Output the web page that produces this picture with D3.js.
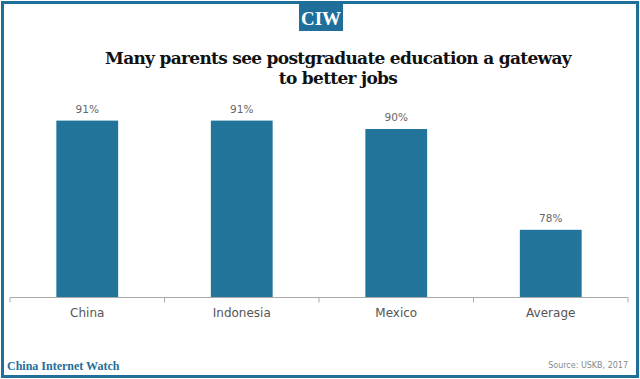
<!DOCTYPE html>
<html><head><meta charset="utf-8">
<script src="https://cdn.jsdelivr.net/npm/d3@7"></script>
<style>body{margin:0;background:#fff}svg{display:block}</style>
</head><body>
<svg id="c" width="640" height="379"></svg>
<script>
const categories = ["China", "Indonesia", "Mexico", "Average"];
const values = [91, 91, 90, 78];
const valueLabels = ["91%", "91%", "90%", "78%"];
const titleLines = ["Many parents see postgraduate education a gateway", "to better jobs"];

const svg = d3.select("#c");
const W = 640, H = 379;
const blue = "#1f6f9a";
const barColor = "#22749b";

// frame
svg.append("rect").attr("x", 2.5).attr("y", 2.5).attr("width", W - 5).attr("height", H - 5)
  .attr("fill", "none").attr("stroke", blue).attr("stroke-width", 3);

// logo
svg.append("rect").attr("x", 299).attr("y", 4).attr("width", 44).attr("height", 27).attr("fill", blue);
svg.append("text").attr("x", 321).attr("y", 25).attr("text-anchor", "middle")
  .attr("font-family", "Liberation Serif").attr("font-weight", "bold").attr("font-size", 19)
  .attr("fill", "#fff").text("CIW");

// title
svg.append("g").selectAll("text").data(titleLines).join("text")
  .attr("x", 338).attr("y", (d, i) => 64 + i * 20).attr("text-anchor", "middle")
  .attr("font-family", "DejaVu Serif").attr("font-weight", "bold").attr("font-size", 17)
  .attr("letter-spacing", -0.7)
  .attr("fill", "#111").text(d => d);

const x = d3.scaleBand().domain(categories).range([10, 628]).paddingInner(0.6).paddingOuter(0.3);
const y = d3.scaleLinear().domain([70, 100]).range([297, 45]);

svg.append("g").selectAll("rect").data(categories).join("rect")
  .attr("x", d => x(d)).attr("width", x.bandwidth())
  .attr("y", (d, i) => y(values[i])).attr("height", (d, i) => y(70) - y(values[i]))
  .attr("fill", barColor);

svg.append("g").selectAll("text").data(categories).join("text")
  .attr("x", d => x(d) + x.bandwidth() / 2).attr("y", (d, i) => y(values[i]) - 8)
  .attr("text-anchor", "middle").attr("font-family", "DejaVu Sans").attr("font-size", 10.5)
  .attr("fill", "#666").text((d, i) => valueLabels[i]);

const axis = d3.axisBottom(x).tickSize(0).tickPadding(11);
const ag = svg.append("g").attr("transform", "translate(0,297.5)").call(axis);
ag.select(".domain").attr("stroke", "#aaa").attr("d", "M10,0H628");
ag.selectAll("text").attr("font-family", "DejaVu Sans").attr("font-size", 12).attr("fill", "#555");
// category boundary ticks
const bounds = [10, ...categories.slice(1).map(c => x(c) - x.step() * x.paddingInner() / 2), 628];
ag.selectAll(".bt").data(bounds).join("line").attr("class", "bt")
  .attr("x1", d => d).attr("x2", d => d).attr("y1", 0).attr("y2", 5).attr("stroke", "#aaa");

// footer
svg.append("text").attr("x", 7).attr("y", 370)
  .attr("font-family", "Liberation Serif").attr("font-weight", "bold").attr("font-size", 12)
  .attr("fill", "#1f6f9a").text("China Internet Watch");
svg.append("text").attr("x", 628).attr("y", 368).attr("text-anchor", "end")
  .attr("font-family", "DejaVu Sans").attr("font-size", 8).attr("fill", "#888")
  .text("Source: USKB, 2017");
</script>
</body></html>
